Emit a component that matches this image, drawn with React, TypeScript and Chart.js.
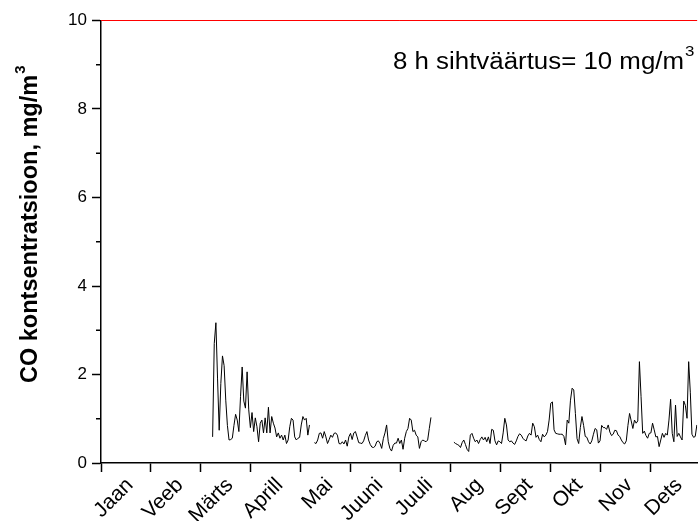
import React, { useEffect, useRef } from 'react';
import { Chart, registerables } from 'chart.js';

Chart.register(...registerables);

// ---- data ----
const MONTHS = ['Jaan', 'Veeb', 'Märts', 'Aprill', 'Mai', 'Juuni', 'Juuli', 'Aug', 'Sept', 'Okt', 'Nov', 'Dets'];
const Y_TICKS = [0, 2, 4, 6, 8, 10];
const Y_MINOR_TICKS = [1, 3, 5, 7, 9];
const LIMIT_VALUE = 10;
const LIMIT_TEXT = '8 h sihtväärtus= 10 mg/m';
const Y_TITLE = 'CO kontsentratsioon, mg/m';
const SUPERSCRIPT = '3';

// daily 8h-max CO values, segments start at day-of-year index
const SEG1_START_DAY = 68;
const SEG1 = [
  0.59, 2.7, 3.17, 1.9, 0.74, 1.8, 2.42, 2.2, 1.42, 0.85,
  0.52, 0.53, 0.56, 0.85, 1.1, 0.97, 0.71, 1.5, 2.17, 1.4,
  1.24, 2.06, 1.2, 0.8, 1.14, 0.71, 1.02, 0.82, 0.48, 0.9,
  0.97, 0.68, 1.02, 0.68, 1.26, 0.68, 1.05, 0.9, 0.79, 0.59,
  0.68, 0.56, 0.63, 0.52, 0.63, 0.44, 0.52, 0.82, 1.01, 0.97,
  0.59, 0.52, 0.56, 0.58, 0.86, 1.05, 0.97, 1.01, 0.63, 0.86,
];
const SEG2_START_DAY = 130;
const SEG2 = [
  0.46, 0.44, 0.52, 0.67, 0.68, 0.56, 0.71, 0.59, 0.44, 0.53,
  0.63, 0.58, 0.67, 0.68, 0.63, 0.44, 0.43, 0.48, 0.43, 0.52,
  0.38, 0.59, 0.67, 0.53, 0.68, 0.71, 0.59, 0.46, 0.45, 0.44,
  0.5, 0.62, 0.71, 0.52, 0.42, 0.36, 0.35, 0.38, 0.48, 0.5,
  0.44, 0.33, 0.55, 0.68, 0.86, 0.48, 0.33, 0.27, 0.4, 0.45,
  0.45, 0.56, 0.44, 0.52, 0.31, 0.56, 0.71, 0.78, 1.01, 0.97,
  0.71, 0.74, 0.63, 0.59, 0.33, 0.48, 0.52, 0.5, 0.48, 0.52,
  0.78, 1.03,
];
const SEG3_START_DAY = 215;
const SEG3 = [
  0.47, 0.44, 0.42, 0.4, 0.35, 0.46, 0.52, 0.42, 0.31, 0.26,
  0.63, 0.67, 0.56, 0.48, 0.52, 0.44, 0.53, 0.59, 0.52, 0.58,
  0.48, 0.59, 0.44, 0.76, 0.74, 0.5, 0.41, 0.5, 0.48, 0.44,
  0.68, 1.01, 0.86, 0.52, 0.48, 0.5, 0.45, 0.42, 0.5, 0.6,
  0.66, 0.63, 0.56, 0.52, 0.5, 0.61, 0.67, 0.63, 0.9, 0.82,
  0.58, 0.63, 0.53, 0.48, 0.65, 0.59, 0.63, 0.71, 0.97, 1.35,
  1.38, 0.75, 0.67, 0.66, 0.65, 0.65, 0.65, 0.6, 0.41, 0.97,
  0.9, 1.42, 1.69, 1.65, 1.12, 0.55, 0.44, 0.8, 1.05, 0.85,
  0.6, 0.58, 0.48, 0.43, 0.5, 0.65, 0.78, 0.75, 0.45, 0.5,
  0.85, 0.8, 0.8, 0.76, 0.86, 0.7, 0.62, 0.65, 0.74, 0.73,
  0.63, 0.6, 0.52, 0.46, 0.43, 0.5, 0.85, 1.12, 0.95, 0.78,
  0.97, 0.9, 0.95, 2.29, 1.5, 0.67, 0.72, 0.62, 0.56, 0.67,
  0.68, 0.9, 0.75, 0.59, 0.6, 0.37, 0.52, 0.67, 0.58, 0.67,
  0.63, 0.97, 1.44, 0.67, 0.48, 1.31, 0.6, 0.67, 0.59, 0.52,
  1.4, 1.3, 1.01, 2.29, 1.6, 0.65, 0.58, 0.6, 0.86,
];

const DAYS_IN_YEAR = 365;
const X_MAX = 11.94; // visible part of the year, in months
const LABEL_OFFSET = 0.58; // month-label anchor within each month

const toPoints = (startDay: number, vals: number[]) =>
  vals.map((v, i) => ({ x: ((startDay + i) * 12) / DAYS_IN_YEAR, y: v }));

const FONT = "'Liberation Sans', Arial, Helvetica, sans-serif";

const extrasPlugin = {
  id: 'extras',
  afterDraw(chart: any) {
    const { ctx, chartArea, scales } = chart;
    const y = scales.y;
    ctx.save();
    // minor y ticks
    ctx.strokeStyle = '#000';
    ctx.lineWidth = 1.5;
    Y_MINOR_TICKS.forEach((v) => {
      const py = y.getPixelForValue(v);
      ctx.beginPath();
      ctx.moveTo(chartArea.left - 5, py);
      ctx.lineTo(chartArea.left, py);
      ctx.stroke();
    });

    // limit annotation
    ctx.fillStyle = '#000';
    ctx.textBaseline = 'alphabetic';
    ctx.textAlign = 'left';
    ctx.font = `23px ${FONT}`;
    const mainW = ctx.measureText(LIMIT_TEXT).width;
    const startX = 393;
    const stretch = (684 - startX) / mainW;
    ctx.save();
    ctx.translate(startX, 69);
    ctx.scale(stretch, 1);
    ctx.fillText(LIMIT_TEXT, 0, 0);
    ctx.font = `15px ${FONT}`;
    ctx.fillText(SUPERSCRIPT, mainW + 1, -13);
    ctx.restore();

    // y axis title
    ctx.save();
    ctx.font = `bold 23.5px ${FONT}`;
    const tW = ctx.measureText(Y_TITLE).width;
    ctx.translate(37, 383);
    ctx.rotate(-Math.PI / 2);
    ctx.fillText(Y_TITLE, 0, 0);
    ctx.font = `bold 15px ${FONT}`;
    ctx.fillText(SUPERSCRIPT, tW + 1, -12);
    ctx.restore();

    ctx.restore();
  },
};

export default function App() {
  const canvasRef = useRef<HTMLCanvasElement | null>(null);

  useEffect(() => {
    if (!canvasRef.current) return;
    const lineStyle = {
      borderColor: '#000',
      borderWidth: 1,
      pointRadius: 0,
      tension: 0,
      fill: false,
    };
    const chart = new Chart(canvasRef.current, {
      type: 'line',
      data: {
        datasets: [
          { data: toPoints(SEG1_START_DAY, SEG1), ...lineStyle },
          { data: toPoints(SEG2_START_DAY, SEG2), ...lineStyle },
          { data: toPoints(SEG3_START_DAY, SEG3), ...lineStyle },
          {
            data: [
              { x: 0, y: LIMIT_VALUE },
              { x: X_MAX, y: LIMIT_VALUE },
            ],
            borderColor: '#ff0000',
            borderWidth: 1,
            pointRadius: 0,
            clip: false,
          } as any,
        ],
      },
      options: {
        responsive: false,
        animation: false,
        layout: { padding: { top: 20.5, left: 0, right: 0, bottom: 0 } },
        plugins: {
          legend: { display: false },
          tooltip: { enabled: false },
          title: { display: false },
        },
        scales: {
          x: {
            type: 'linear',
            min: 0,
            max: X_MAX,
            afterBuildTicks: (scale: any) => {
              const t: any[] = [];
              for (let k = 0; k < MONTHS.length; k++) {
                t.push({ value: k });
                t.push({ value: k + LABEL_OFFSET });
              }
              scale.ticks = t.filter((tk) => tk.value <= X_MAX);
            },
            afterFit: (scale: any) => {
              scale.height = 58;
            },
            ticks: {
              autoSkip: false,
              minRotation: 45,
              maxRotation: 45,
              padding: 1,
              color: '#000',
              font: { family: FONT, size: 21 },
              callback: (v: any) => {
                const k = Math.round(Number(v) - LABEL_OFFSET);
                return Number.isInteger(Number(v)) ? '' : MONTHS[k];
              },
            },
            grid: {
              drawOnChartArea: false,
              drawTicks: true,
              tickLength: 9,
              tickWidth: 1.5,
              tickColor: (c: any) =>
                c.tick && Number.isInteger(c.tick.value) ? '#000' : 'rgba(0,0,0,0)',
            },
            border: { display: true, color: '#000', width: 1.5 },
          },
          y: {
            type: 'linear',
            min: 0,
            max: 10,
            afterBuildTicks: (scale: any) => {
              scale.ticks = Y_TICKS.map((v) => ({ value: v }));
            },
            afterFit: (scale: any) => {
              scale.width = 101;
            },
            ticks: {
              padding: 5,
              color: '#000',
              font: { family: FONT, size: 17 },
            },
            grid: {
              drawOnChartArea: false,
              drawTicks: true,
              tickLength: 9,
              tickWidth: 1.5,
              tickColor: '#000',
            },
            border: { display: true, color: '#000', width: 1.5 },
          },
        },
      },
      plugins: [extrasPlugin],
    });
    return () => chart.destroy();
  }, []);

  return (
    <div style={{ position: 'absolute', left: 0, top: 0, width: 698, height: 521, background: '#fff' }}>
      <canvas ref={canvasRef} width={698} height={521} style={{ display: 'block' }} />
    </div>
  );
}
